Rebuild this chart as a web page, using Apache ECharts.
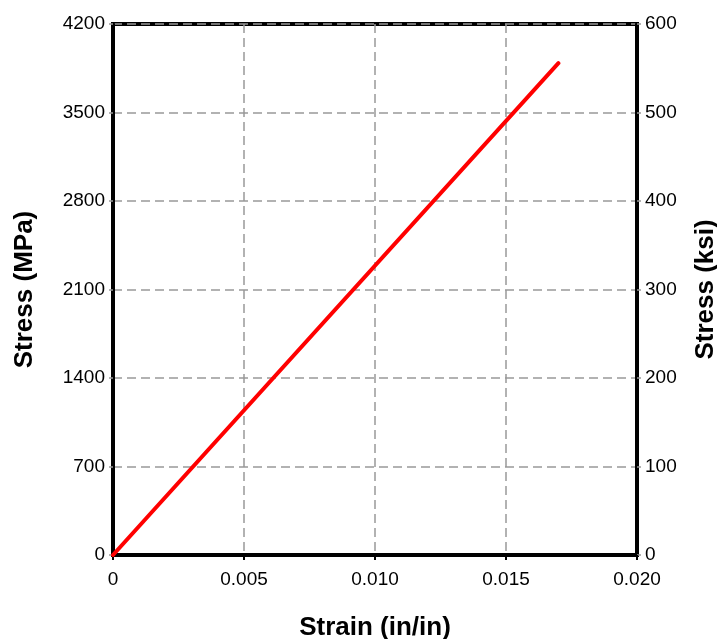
<!DOCTYPE html>
<html><head><meta charset="utf-8">
<script src="https://cdn.jsdelivr.net/npm/echarts@6/dist/echarts.min.js"></script>
<style>html,body{margin:0;padding:0;background:#fff}#c{width:717px;height:639px}</style>
</head><body><div id="c"></div>
<script>
const strain = [0, 0.017];
const stressMPa = [0, 3890];
const xTicks = [0, 0.005, 0.010, 0.015, 0.020];
const xLabels = ['0', '0.005', '0.010', '0.015', '0.020'];
const leftTicks = [0, 700, 1400, 2100, 2800, 3500, 4200];
const rightTicks = [0, 100, 200, 300, 400, 500, 600];

const chart = echarts.init(document.getElementById('c'));
const font = 'Liberation Sans, Arial, sans-serif';
chart.setOption({
  animation: false,
  grid: { left: 113, right: 80, top: 24, bottom: 84, show: true, borderColor: '#000', borderWidth: 4, containLabel: false, outerBoundsMode: 'none' },
  xAxis: {
    type: 'value', min: 0, max: 0.02, interval: 0.005,
    name: 'Strain (in/in)', nameLocation: 'middle', nameGap: 60,
    nameTextStyle: { fontFamily: font, fontSize: 26, fontWeight: 'bold', color: '#000' },
    axisLine: { show: true, lineStyle: { color: '#000', width: 4 } },
    axisTick: { show: true, length: 5, lineStyle: { color: '#000', width: 2 } },
    axisLabel: { fontFamily: font, fontSize: 19, color: '#000', margin: 15,
      formatter: v => { const i = xTicks.findIndex(t => Math.abs(t - v) < 1e-9); return i >= 0 ? xLabels[i] : ''; } },
    splitLine: { show: true, lineStyle: { color: '#999', width: 1.5, type: [9, 5] } }
  },
  yAxis: [{
    type: 'value', min: 0, max: 4200, interval: 700, position: 'left',
    name: 'Stress (MPa)', nameLocation: 'middle', nameGap: 75, nameRotate: 90,
    nameTextStyle: { fontFamily: font, fontSize: 26, fontWeight: 'bold', color: '#000' },
    axisLine: { show: true, lineStyle: { color: '#000', width: 4 } },
    axisTick: { show: true, length: 4, lineStyle: { color: '#999', width: 1.5 } },
    axisLabel: { fontFamily: font, fontSize: 19, color: '#000', margin: 8,
      formatter: v => leftTicks.includes(v) ? String(v) : '' },
    splitLine: { show: true, lineStyle: { color: '#999', width: 1.5, type: [9, 5] } }
  }, {
    type: 'value', min: 0, max: 600, interval: 100, position: 'right',
    name: 'Stress (ksi)', nameLocation: 'middle', nameGap: 56, nameRotate: 90,
    nameTextStyle: { fontFamily: font, fontSize: 26, fontWeight: 'bold', color: '#000' },
    axisLine: { show: true, lineStyle: { color: '#000', width: 4 } },
    axisTick: { show: true, length: 4, lineStyle: { color: '#999', width: 1.5 } },
    axisLabel: { fontFamily: font, fontSize: 19, color: '#000', margin: 8,
      formatter: v => rightTicks.includes(v) ? String(v) : '' },
    splitLine: { show: false }
  }],
  series: [{
    type: 'line', yAxisIndex: 0, showSymbol: false, symbol: 'none',
    data: strain.map((s, i) => [s, stressMPa[i]]),
    lineStyle: { color: '#ff0000', width: 4, cap: 'round' }, z: 5
  }]
});
</script></body></html>
